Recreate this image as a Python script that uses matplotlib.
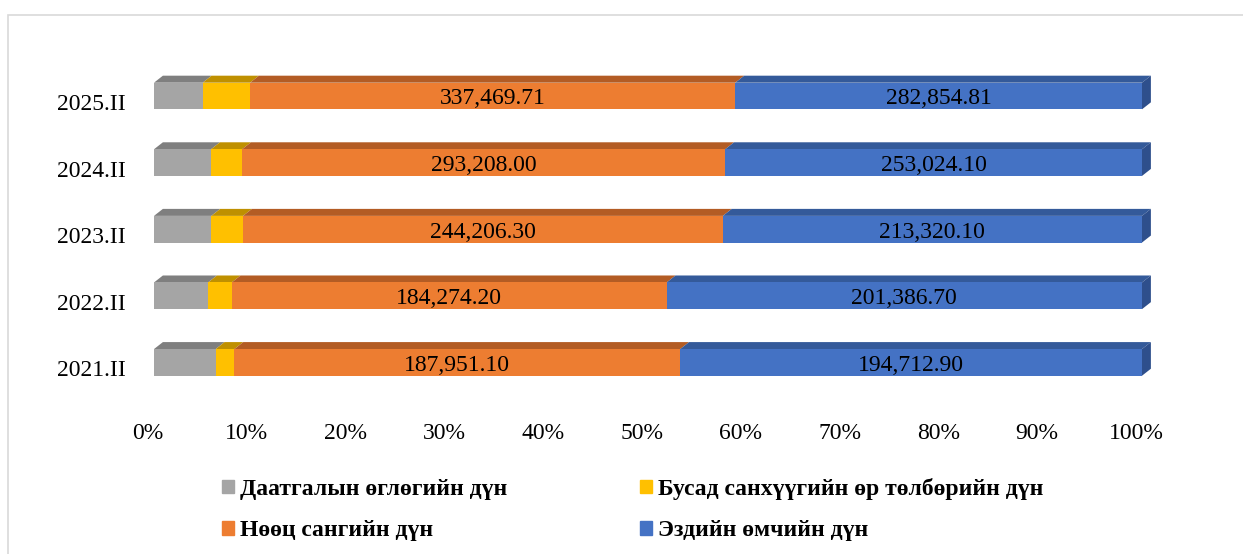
import numpy as np
import matplotlib.pyplot as plt
import matplotlib.transforms as mtransforms
from matplotlib.patches import Polygon, Rectangle, Patch

plt.rcParams['font.family'] = ['Liberation Serif', 'DejaVu Serif']

periods = ['2021.II', '2022.II', '2023.II', '2024.II', '2025.II']
insurance_payable = [26000.0, 22900.0, 29170.0, 34600.0, 33870.0]
other_liabilities = [7870.0, 10000.0, 16150.0, 18840.0, 32900.0]
reserve_fund = [187951.10, 184274.20, 244206.30, 293208.00, 337469.71]
equity = [194712.90, 201386.70, 213320.10, 253024.10, 282854.81]

series_names = ['Даатгалын өглөгийн дүн', 'Бусад санхүүгийн өр төлбөрийн дүн',
                'Нөөц сангийн дүн', 'Эздийн өмчийн дүн']
front_colors = ['#A5A5A5', '#FFC000', '#ED7D31', '#4472C4']
top_colors = ['#7F7F7F', '#BF9000', '#B35C24', '#345A9A']
side_color = '#2E4F8C'

data = np.array([insurance_payable, other_liabilities, reserve_fund, equity])
pct = data / data.sum(axis=0) * 100
left = np.vstack([np.zeros(len(periods)), np.cumsum(pct, axis=0)[:-1]])

fig = plt.figure(figsize=(12.43, 5.54), dpi=100)
# chart border
fig.patches.append(Rectangle((8 / 1243, -0.1), 1.2, 1 - 15 / 554 + 0.1,
                             transform=fig.transFigure, fill=False,
                             edgecolor='#D9D9D9', linewidth=1.2))

ax = fig.add_axes([154 / 1243, 1 - 395.7 / 554, 988 / 1243, 333 / 554])
y = np.arange(len(periods))
h = 0.4
dx = 0.9
dy = 0.105
label_shift = ax.transData + mtransforms.ScaledTranslation(0, -3 / 100, fig.dpi_scale_trans)

for k in range(4):
    ax.barh(y, pct[k], left=left[k], height=h, color=front_colors[k],
            edgecolor='none', zorder=2)
    for i in range(len(periods)):
        x0 = left[k][i]
        x1 = x0 + pct[k][i]
        yt = y[i] + h / 2
        ax.add_patch(Polygon([(x0, yt), (x1, yt), (x1 + dx, yt + dy), (x0 + dx, yt + dy)],
                             closed=True, facecolor=top_colors[k], edgecolor='none',
                             clip_on=False, zorder=1))
        if k == 3:
            yb = y[i] - h / 2
            ax.add_patch(Polygon([(x1, yb), (x1, yt), (x1 + dx, yt + dy), (x1 + dx, yb + dy)],
                                 closed=True, facecolor=side_color, edgecolor='none',
                                 clip_on=False, zorder=1))
        if k >= 2:
            ax.text(x0 + pct[k][i] / 2, y[i], f'{data[k][i]:,.2f}', transform=label_shift,
                    ha='center', va='center', fontsize=17, color='black', zorder=3)

ax.set_xlim(0, 100)
ax.set_ylim(-0.5, 4.5)
ax.set_xticks(np.arange(0, 101, 10))
ax.set_xticklabels([f'{v}%' for v in range(0, 101, 10)], fontsize=17, color='black')
ax.set_yticks(y)
ax.set_yticklabels(periods, fontsize=17, color='black')
ax.tick_params(axis='both', length=0)
ax.tick_params(axis='x', pad=20)
ax.tick_params(axis='y', pad=20)
shift = mtransforms.ScaledTranslation(0, -6 / 100, fig.dpi_scale_trans)
for lab in ax.get_yticklabels():
    lab.set_transform(lab.get_transform() + shift)
shiftx = mtransforms.ScaledTranslation(-6 / 100, 0, fig.dpi_scale_trans)
for lab in ax.get_xticklabels():
    lab.set_transform(lab.get_transform() + shiftx)
for s in ax.spines.values():
    s.set_visible(False)

handles = [Patch(color=front_colors[j], label=series_names[j]) for j in [0, 2, 1, 3]]
fig.legend(handles=handles, ncol=2, loc='upper left',
           bbox_to_anchor=(210 / 1243, 1 - 466 / 554), frameon=False, borderpad=0,
           prop={'weight': 'bold', 'size': 17}, handlelength=0.5, handleheight=0.5,
           handletextpad=0.25, columnspacing=5.65, labelspacing=0.87)

fig.savefig('out.png', dpi=100)
